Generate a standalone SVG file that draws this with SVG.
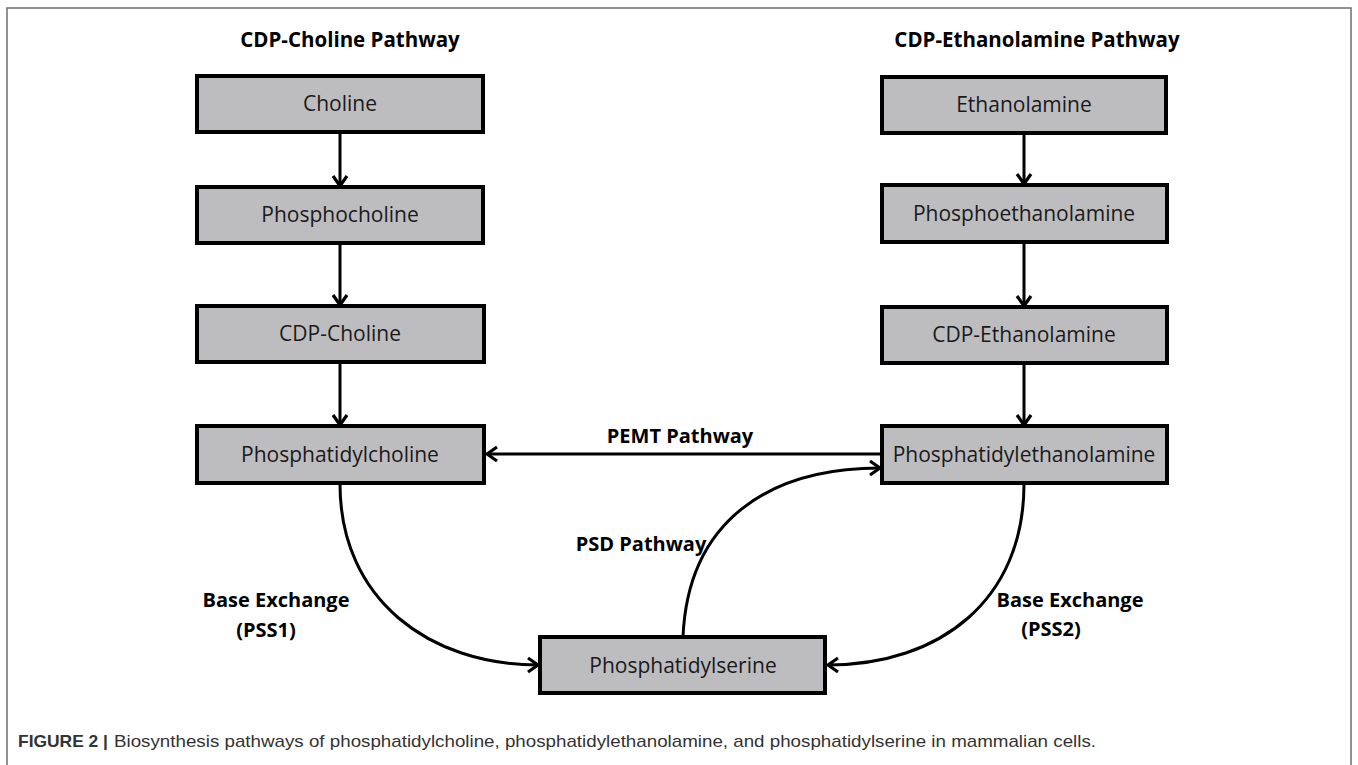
<svg xmlns="http://www.w3.org/2000/svg" width="1358" height="765" viewBox="0 0 1358 765">
<defs>
<style>
.box{fill:#bdbdc0;stroke:#000;stroke-width:4}
.lbl{font-family:"Open Sans","Noto Sans",sans-serif;font-size:21px;fill:#1a1a1a;text-anchor:middle}
.ttl{font-family:"Open Sans","Noto Sans",sans-serif;font-size:20.5px;font-weight:bold;fill:#000;text-anchor:middle}
.edge{font-family:"Open Sans","Noto Sans",sans-serif;font-size:20px;font-weight:bold;fill:#000}
.conn{fill:none;stroke:#000;stroke-width:3;marker-end:url(#ah)}
.cap{font-family:"Liberation Sans",Arial,sans-serif;font-size:17px;fill:#333}
</style>
<marker id="ah" viewBox="0 0 14 18" refX="12" refY="9" markerWidth="14" markerHeight="18" markerUnits="userSpaceOnUse" orient="auto">
<path d="M2,2 L12,9 L2,16" fill="none" stroke="#000" stroke-width="3.2" stroke-linejoin="miter"/>
</marker>
</defs>
<rect x="0" y="0" width="1358" height="765" fill="#fff"/>
<rect x="7" y="8" width="1344" height="790" fill="none" stroke="#6e6e6e" stroke-width="1.5"/>

<g id="titles">
<text class="ttl" x="350" y="47">CDP-Choline Pathway</text>
<text class="ttl" x="1037" y="47">CDP-Ethanolamine Pathway</text>
</g>

<g id="connectors">
<path class="conn" d="M340,133 L340,186"/>
<path class="conn" d="M340,243 L340,305"/>
<path class="conn" d="M340,362 L340,425"/>
<path class="conn" d="M1024,134 L1024,184"/>
<path class="conn" d="M1024,242 L1024,306"/>
<path class="conn" d="M1024,363 L1024,425"/>
<path class="conn" d="M881,454 L487,454"/>
<path class="conn" d="M683,637 C688,520 770,468 880,468"/>
<path class="conn" d="M340,484 C340,600 430,665 538,665"/>
<path class="conn" d="M1024,484 C1024,600 940,665 828,665"/>
</g>

<g id="edge-labels">
<text class="edge" x="680" y="443" text-anchor="middle">PEMT Pathway</text>
<text class="edge" x="641" y="551" text-anchor="middle">PSD Pathway</text>
<text class="edge" x="276" y="607" text-anchor="middle">Base Exchange</text>
<text class="edge" x="266" y="637" text-anchor="middle">(PSS1)</text>
<text class="edge" x="1070" y="607" text-anchor="middle">Base Exchange</text>
<text class="edge" x="1051" y="636" text-anchor="middle">(PSS2)</text>
</g>

<g id="node-choline">
<rect class="box" x="197" y="76" width="286" height="56"/>
<text class="lbl" x="340" y="111">Choline</text>
</g>
<g id="node-phosphocholine">
<rect class="box" x="197" y="187" width="286" height="56"/>
<text class="lbl" x="340" y="222">Phosphocholine</text>
</g>
<g id="node-cdp-choline">
<rect class="box" x="197" y="306" width="287" height="56"/>
<text class="lbl" x="340" y="341">CDP-Choline</text>
</g>
<g id="node-phosphatidylcholine">
<rect class="box" x="197" y="426" width="287" height="57"/>
<text class="lbl" x="340" y="462">Phosphatidylcholine</text>
</g>
<g id="node-ethanolamine">
<rect class="box" x="882" y="77" width="284" height="56"/>
<text class="lbl" x="1024" y="112">Ethanolamine</text>
</g>
<g id="node-phosphoethanolamine">
<rect class="box" x="882" y="185" width="285" height="57"/>
<text class="lbl" x="1024" y="221">Phosphoethanolamine</text>
</g>
<g id="node-cdp-ethanolamine">
<rect class="box" x="882" y="307" width="285" height="56"/>
<text class="lbl" x="1024" y="342">CDP-Ethanolamine</text>
</g>
<g id="node-phosphatidylethanolamine">
<rect class="box" x="882" y="426" width="285" height="57"/>
<text class="lbl" x="1024" y="462">Phosphatidylethanolamine</text>
</g>
<g id="node-phosphatidylserine">
<rect class="box" x="540" y="637" width="285" height="56"/>
<text class="lbl" x="683" y="673">Phosphatidylserine</text>
</g>

<g id="caption">
<text class="cap" x="18" y="747" font-weight="bold" fill="#222" textLength="90" lengthAdjust="spacingAndGlyphs">FIGURE 2 |</text>
<text class="cap" x="114" y="747" textLength="982" lengthAdjust="spacingAndGlyphs">Biosynthesis pathways of phosphatidylcholine, phosphatidylethanolamine, and phosphatidylserine in mammalian cells.</text>
</g>
</svg>
